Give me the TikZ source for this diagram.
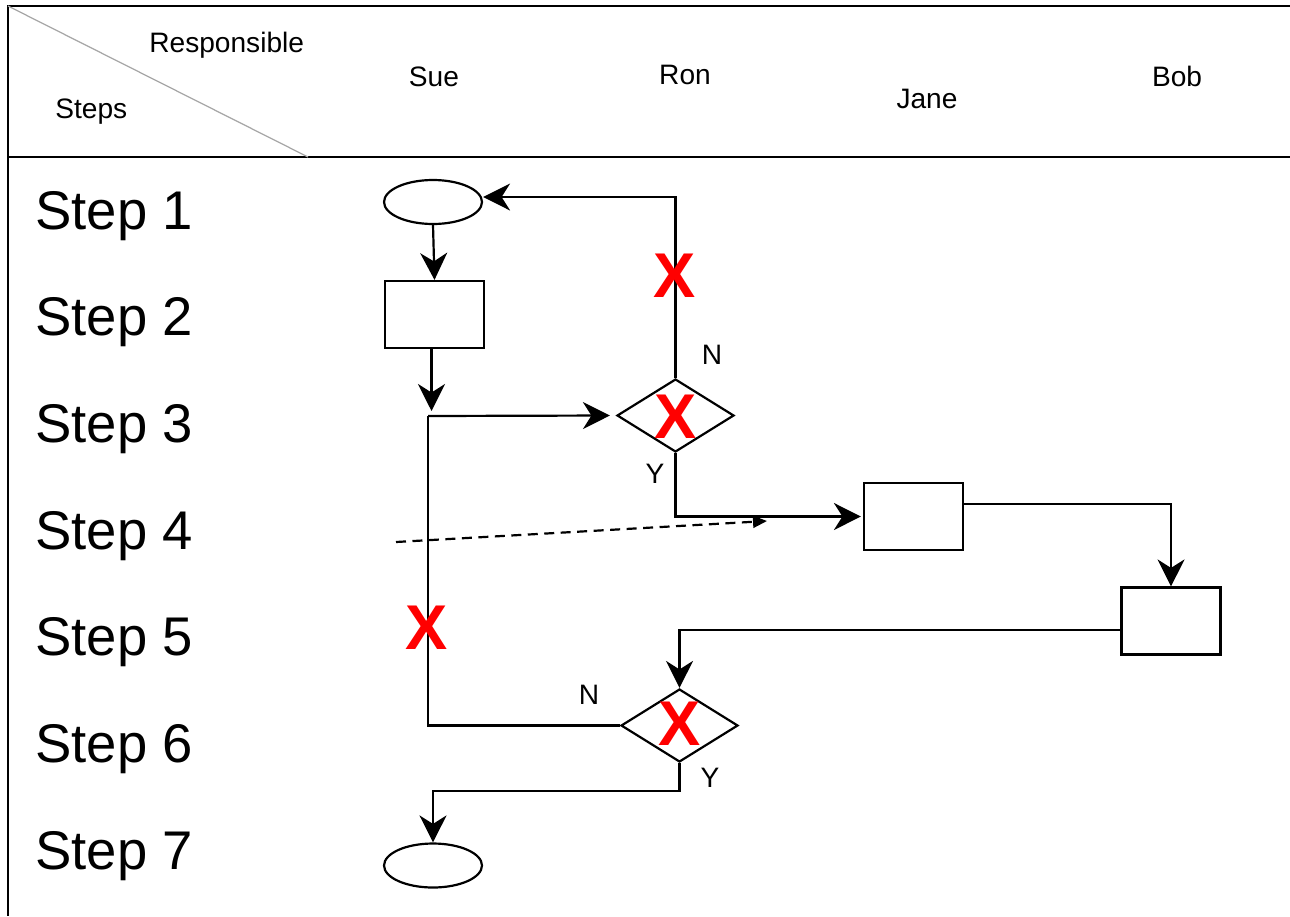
\documentclass[tikz,border=0pt]{standalone}
\usepackage{fontspec}
\setmainfont{Liberation Sans}
\usetikzlibrary{shapes.geometric,arrows.meta}
\begin{document}
\begin{tikzpicture}[x=0.02cm,y=-0.02cm,
  ln/.style={line width=1.25pt},
  arr/.style={ln,-{Stealth[length=0.54cm,width=0.54cm,inset=0.17cm]}},
  frm/.style={line width=1.6pt},
  hdr/.style={font=\fontsize{16pt}{18pt}\selectfont,inner sep=0pt},
  steplbl/.style={font=\fontsize{31pt}{34pt}\selectfont,inner sep=0pt,anchor=base west},
  ell/.style={ellipse,draw,ln,minimum width=1.96cm,minimum height=0.88cm,inner sep=0pt},
  box/.style={rectangle,draw,ln,minimum width=1.98cm,minimum height=1.34cm,inner sep=0pt},
  dec/.style={diamond,draw,ln,minimum width=2.34cm,minimum height=1.46cm,inner sep=0pt},
  redx/.style={text=red,font=\fontsize{36pt}{40pt}\selectfont\bfseries,inner sep=0pt},
  yn/.style={font=\fontsize{16pt}{18pt}\selectfont,inner sep=0pt}]
\useasboundingbox (0,0) rectangle (1290,916);
% frame
\coordinate (tl) at (8,6);
\coordinate (tr) at (1290,6);
\coordinate (bl) at (8,916);
\coordinate (hl) at (8,157);
\coordinate (hr) at (1290,157);
\coordinate (dg) at (308,157);
\draw[frm] (tr) -- (tl) -- (bl);
\draw[frm] (hl) -- (hr);
\draw[gray!70,line width=0.7pt] (tl) -- (dg);
% header texts
\node[hdr,anchor=base west] (resp) at (149,52) {Responsible};
\node[hdr,anchor=base west] (steps) at (55,118) {Steps};
\node[hdr,anchor=base] (sue) at (434,86) {Sue};
\node[hdr,anchor=base] (ron) at (685,84) {Ron};
\node[hdr,anchor=base] (jane) at (927,108) {Jane};
\node[hdr,anchor=base] (bob) at (1177,86) {Bob};
% step labels
\node[steplbl] (s1) at (35,229) {Step 1};
\node[steplbl] (s2) at (35,335.7) {Step 2};
\node[steplbl] (s3) at (35,442.3) {Step 3};
\node[steplbl] (s4) at (35,549) {Step 4};
\node[steplbl] (s5) at (35,655.7) {Step 5};
\node[steplbl] (s6) at (35,762.3) {Step 6};
\node[steplbl] (s7) at (35,869) {Step 7};
% shapes
\node[ell] (e1) at (433,202) {};
\node[box] (r1) at (434.5,314.5) {};
\node[dec] (d1) at (675.5,415.5) {};
\node[box] (j1) at (913.5,516.5) {};
\node[box] (b1) at (1171,621) {};
\node[dec] (d2) at (679.5,725.5) {};
\node[ell] (e2) at (433,865.5) {};
% helper coordinates
\coordinate (c1) at (428,416);
\coordinate (ds) at (396,542);
\coordinate (de) at (767,521);
% connectors
\draw[arr] (e1.south) -- (r1.north);
\draw[arr] ([xshift=-0.06cm]r1.south) -- ([xshift=-0.06cm,yshift=0.1cm]r1.south |- c1);
\draw[arr] (c1) -- ([xshift=-0.12cm]d1.west);
\draw[ln] (c1) |- (d2.west);
\draw[arr] (d1.north) |- ([yshift=0.1cm]e1.east);
\draw[arr] (d1.south) |- ([xshift=-0.04cm]j1.west);
\draw[arr] ([yshift=0.25cm]j1.east) -| (b1.north);
\draw[arr] ([yshift=-0.18cm]b1.west) -| (d2.north);
\draw[arr] (d2.south) -- ++(0,28) -| (e2.north);
\draw[ln,dash pattern=on 0.2cm off 0.13cm,-{Triangle[length=0.28cm,width=0.24cm]}] (ds) -- (de);
% labels
\node[yn] (n1) at (712,355) {N};
\node[yn] (y1) at (655,474) {Y};
\node[yn] (n2) at (589,695) {N};
\node[yn] (y2) at (710,778) {Y};
% red crosses
\node[redx] (x1) at (675,276) {X};
\node[redx] (x2) at (676,417) {X};
\node[redx] (x3) at (427,628) {X};
\node[redx] (x4) at (680,724) {X};
\end{tikzpicture}
\end{document}
